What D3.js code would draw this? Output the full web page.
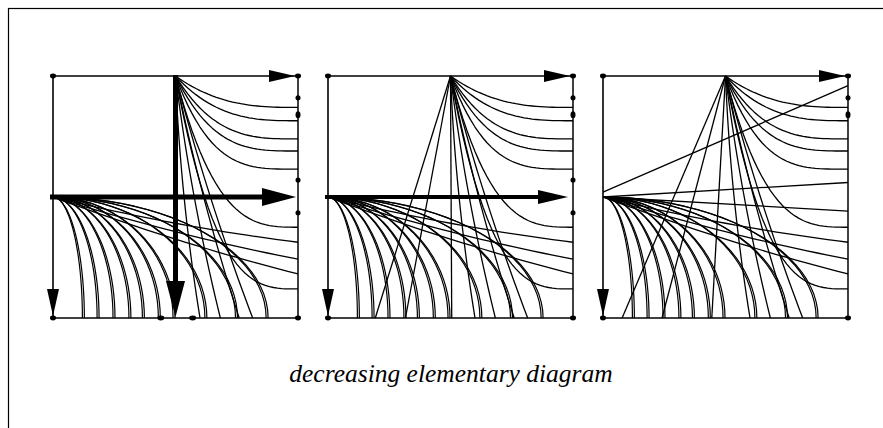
<!DOCTYPE html>
<html><head><meta charset="utf-8">
<script src="https://cdn.jsdelivr.net/npm/d3@7"></script>
<style>body{margin:0;background:#fff}</style>
</head><body><svg id="c" width="883" height="428"></svg>
<script>
// ---- data (normalized panel coordinates: u = left→right, v = top→bottom) ----
const panelIds = [0, 1, 2];
const apexRightEnds = [0.13, 0.185, 0.26, 0.31, 0.385, 0.625, 0.88];
const apexBottomEnds = [0.6, 0.683, 0.76, 0.815];
const sourceRightEnds = [0.687, 0.757, 0.818];
const sourceBottomEnds = [0.12, 0.18, 0.245, 0.31, 0.365, 0.43, 0.49, 0.62, 0.745, 0.87];
const apexRays = [[], [0.193, 0.316, 0.505], [0.078, 0.241, 0.444]];
const chords = [[], [], [[0, 0.48, 1, 0.04], [0, 0.5, 1, 0.44], [0, 0.5, 1, 0.558]]];
const rightDots = [[0.09, 0.16, 0.43, 0.565], [0.09, 0.16, 0.43, 0.565], [0.09, 0.16]];
const bottomDots = [[0.44, 0.57], [], []];
const thickArrows = [["h", "v"], ["h"], []];
const caption = "decreasing elementary diagram";

const svg = d3.select("#c");
svg.append("rect").attr("x", 8.5).attr("y", 8.5).attr("width", 900).attr("height", 450)
  .attr("fill", "none").attr("stroke", "#000").attr("stroke-width", 1.2);

const PW = 245, PH = 242, TOP = 76;
const panelX = d3.scaleLinear().domain([0, 2]).range([53, 603]);

panelIds.forEach(i => {
  const L = panelX(i);
  const x = d3.scaleLinear().domain([0, 1]).range([L, L + PW]);
  const y = d3.scaleLinear().domain([0, 1]).range([TOP, TOP + PH]);
  const line = d3.line().x(d => x(d[0])).y(d => y(d[1]));
  const g = svg.append("g");
  const draw = (pts, w) => g.append("path").attr("d", line(pts)).attr("fill", "none")
    .attr("stroke", "#000").attr("stroke-width", w || 1.3).attr("stroke-linejoin", "round");
  const quad = (p0, c, p1, n = 24) => d3.range(n + 1).map(j => {
    const t = j / n, a = (1 - t) * (1 - t), b = 2 * t * (1 - t), q = t * t;
    return [a * p0[0] + b * c[0] + q * p1[0], a * p0[1] + b * c[1] + q * p1[1]];
  });

  // frame: right and bottom edges
  draw([[1, 0], [1, 1]], 1.5);
  draw([[0, 1], [1, 1]], 1.5);

  // apex → right edge
  apexRightEnds.forEach(v => {
    const k = v < 0.5 ? 2.4 + 3 * v : 3.1;
    draw(d3.range(31).map(j => { const s = j / 30; return [0.5 + 0.5 * s, v * (1 - Math.pow(1 - s, k))]; }));
  });
  // apex → bottom edge
  apexBottomEnds.forEach(u => draw(quad([0.5, 0], [(0.5 + u) / 2 - 0.03, 0.5], [u, 1])));
  // source → right edge
  sourceRightEnds.forEach(v => draw(quad([0, 0.5], [0.5, (0.5 + v) / 2 + 0.03], [1, v])));
  // source → bottom edge (doubled curves)
  sourceBottomEnds.forEach(u => {
    [0, 0.008].forEach(du => {
      const a = u + du, b = 0.5 - du * 0.6;
      draw(d3.range(25).map(j => { const t = j / 24 * Math.PI / 2; return [a * Math.sin(t), 1 - b * Math.cos(t) - (0.5 - b) * (1 - Math.sin(t))]; }), 1.2);
    });
  });
  // panel-specific straight rays and chords
  apexRays[i].forEach(u => draw([[0.5, 0], [u, 1]]));
  chords[i].forEach(c => draw([[c[0], c[1]], [c[2], c[3]]]));

  // thin arrows: top edge and left edge
  draw([[0, 0], [1, 0]], 1.6);
  draw([[0, 0], [0, 1]], 1.6);
  const tri = pts => g.append("path").attr("d", "M" + pts.map(p => p.join(",")).join("L") + "Z").attr("fill", "#000");
  const tx = x(1) - 3, ty = y(0);
  tri([[tx, ty], [tx - 26, ty - 6], [tx - 26, ty + 6]]);
  const lx = x(0), ly = y(1) - 2;
  tri([[lx, ly], [lx - 6, ly - 27], [lx + 6, ly - 27]]);

  // thick arrows
  thickArrows[i].forEach(kind => {
    if (kind === "h") {
      const w = i === 0 ? 5 : 4, hl = i === 0 ? 34 : 30, hh = i === 0 ? 9 : 7;
      const yy = y(0.5), x0 = x(0) - 3, xt = x(1) - (i === 0 ? 2 : 5);
      g.append("line").attr("x1", x0).attr("x2", xt - hl + 2).attr("y1", yy).attr("y2", yy)
        .attr("stroke", "#000").attr("stroke-width", w);
      tri([[xt, yy], [xt - hl, yy - hh], [xt - hl, yy + hh]]);
    } else {
      const xx = x(0.5), yt = y(1) - 1;
      g.append("line").attr("x1", xx).attr("x2", xx).attr("y1", y(0) - 1).attr("y2", yt - 34)
        .attr("stroke", "#000").attr("stroke-width", 5);
      tri([[xx, yt], [xx - 9.5, yt - 36], [xx + 9.5, yt - 36]]);
    }
  });

  // dots
  const dot = (cx, cy, rx, ry) => g.append("ellipse").attr("cx", cx).attr("cy", cy)
    .attr("rx", rx).attr("ry", ry).attr("fill", "#000");
  [[0, 0], [1, 0], [0, 1], [1, 1]].forEach(p => dot(x(p[0]), y(p[1]), 3, 2.4));
  rightDots[i].forEach(v => dot(x(1), y(v), 2.5, v === 0.16 ? 3.5 : 2.6));
  bottomDots[i].forEach(u => dot(x(u), y(1), 3.5, 2.4));
});

svg.append("text").attr("x", 451).attr("y", 382).attr("text-anchor", "middle")
  .attr("font-family", "'Liberation Serif', 'Times New Roman', serif")
  .attr("font-style", "italic").attr("font-size", 25.5).attr("fill", "#000").text(caption);
</script>
</body></html>
